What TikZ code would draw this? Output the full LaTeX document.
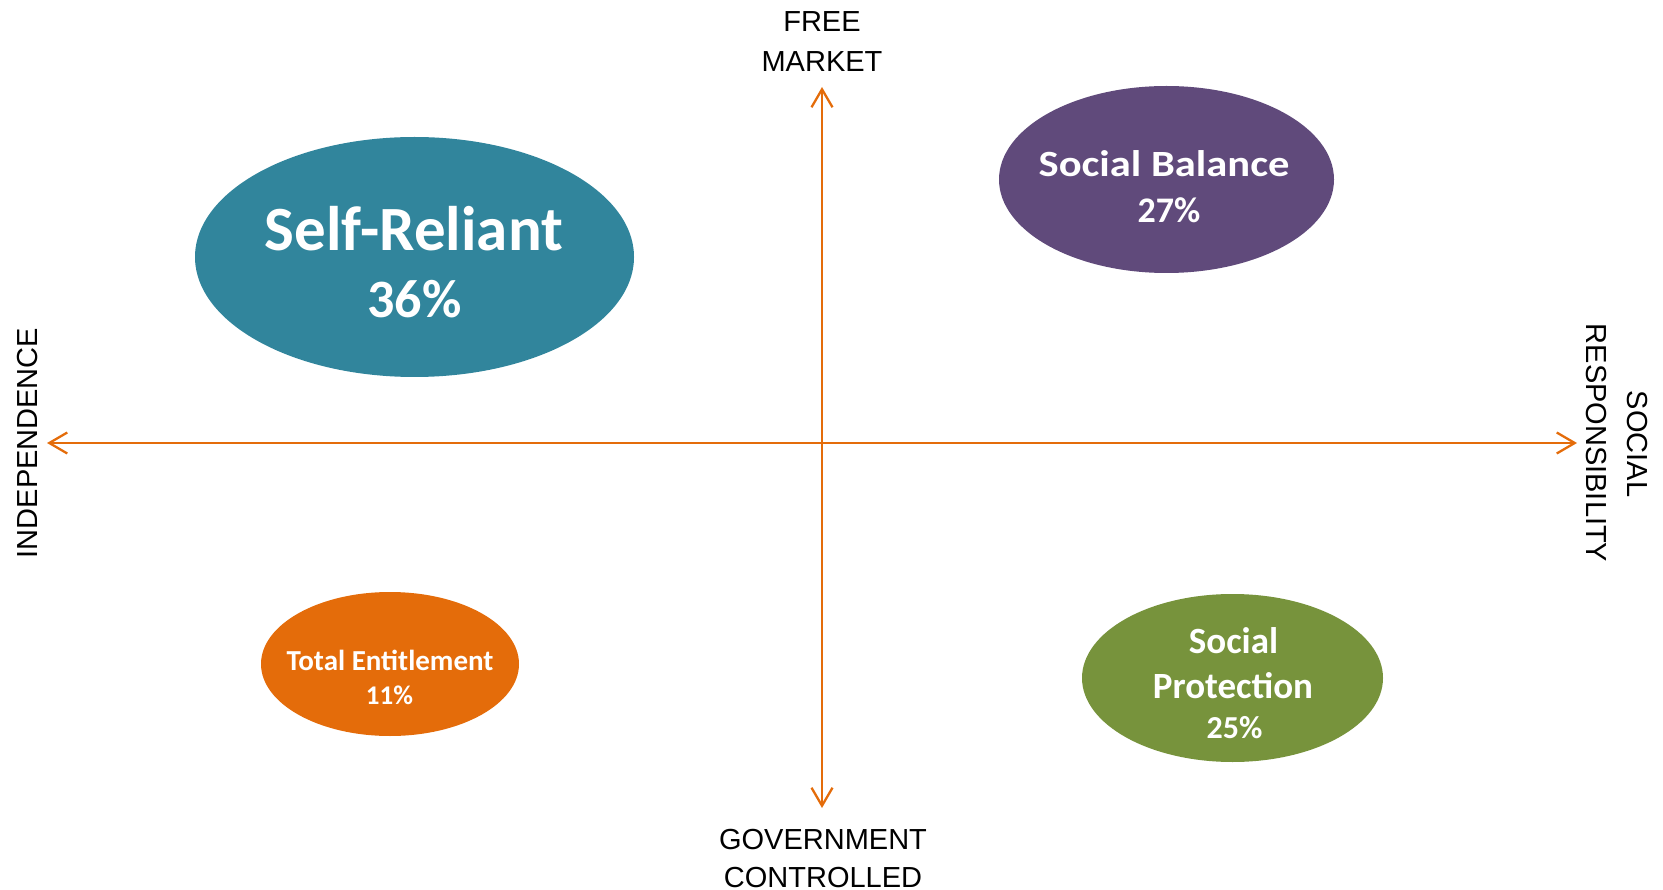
\documentclass[tikz,border=0pt]{standalone}
\usepackage{fontspec}
\setmainfont{Liberation Sans}
\newfontfamily\calb{Carlito}[BoldFont={* Bold}]
\usetikzlibrary{arrows.meta,shapes.geometric}
\definecolor{cteal}{HTML}{31859C}
\definecolor{cpurple}{HTML}{604A7B}
\definecolor{corange}{HTML}{E46C0A}
\definecolor{cgreen}{HTML}{77933C}
\tikzset{
  blob/.style={ellipse, draw=none, inner sep=0pt},
  axis/.style={draw=corange, line width=2.3pt,
     {Straight Barb[length=18pt,width=21pt]}-{Straight Barb[length=18pt,width=21pt]}},
  axlab/.style={anchor=base, inner sep=0pt, font=\fontsize{29}{35}\selectfont, text=black},
  intext/.style={anchor=base, inner sep=0pt, text=white},
}
\begin{document}
\begin{tikzpicture}[x=1pt,y=-1pt]
\useasboundingbox (0,0) rectangle (1663,890);
% ellipses
\node[blob, fill=cteal, minimum width=439pt, minimum height=240pt] (sr) at (414.5,257) {};
\node[blob, fill=cpurple, minimum width=335pt, minimum height=187pt] (sb) at (1166.5,179.5) {};
\node[blob, fill=corange, minimum width=258pt, minimum height=144pt] (te) at (390,664) {};
\node[blob, fill=cgreen, minimum width=301pt, minimum height=168pt] (sp) at (1232.5,678) {};
% ellipse texts
\node[intext, font=\calb\bfseries\fontsize{63}{70}\selectfont] (sr1) at (414,251) {Self-Reliant};
\node[intext, font=\calb\bfseries\fontsize{54}{60}\selectfont] (sr2) at (414.5,318) {36\%};
\node[intext, font=\calb\bfseries\fontsize{37}{42}\selectfont] (sb1) at (1164,177) {\scalebox{1.15}[1]{Social Balance}};
\node[intext, font=\calb\bfseries\fontsize{36}{40}\selectfont] (sb2) at (1169,223) {27\%};
\node[intext, font=\calb\bfseries\fontsize{29}{34}\selectfont] (te1) at (390,670) {Total Entitlement};
\node[intext, font=\calb\bfseries\fontsize{27}{32}\selectfont] (te2) at (389.5,704) {11\%};
\node[intext, font=\calb\bfseries\fontsize{37}{42}\selectfont] (sp1) at (1233.5,653) {Social};
\node[intext, font=\calb\bfseries\fontsize{37}{42}\selectfont] (sp2) at (1233,698) {Protection};
\node[intext, font=\calb\bfseries\fontsize{32}{36}\selectfont] (sp3) at (1234.5,738) {25\%};
% axes
\coordinate (top) at (822,87);
\coordinate (bot) at (822,808);
\coordinate (lft) at (47,443);
\coordinate (rgt) at (1577,443);
\draw[axis] (lft) -- (rgt);
\draw[axis] (top) -- (bot);
% axis labels
\node[axlab] (fm1) at (822,32) {FREE};
\node[axlab] (fm2) at (822,72) {MARKET};
\node[axlab] (gc1) at (823,849) {GOVERNMENT};
\node[axlab] (gc2) at (823,887) {CONTROLLED};
\node[axlab, rotate=90] (ind) at (37,443) {INDEPENDENCE};
\node[axlab, rotate=-90] (sr_a) at (1627,444) {SOCIAL};
\node[axlab, rotate=-90] (sr_b) at (1586,443) {RESPONSIBILITY};
\end{tikzpicture}
\end{document}
